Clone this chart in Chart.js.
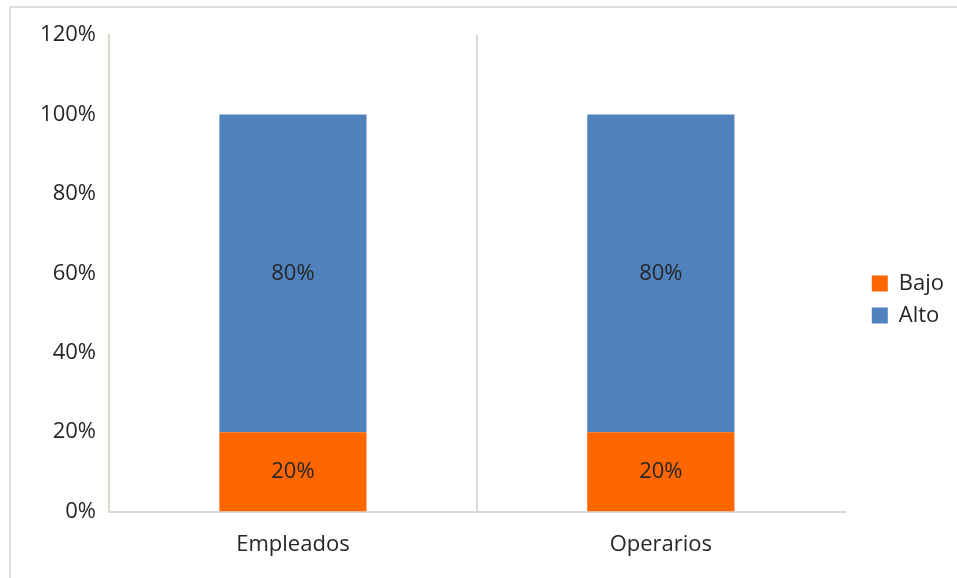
<!DOCTYPE html>
<html>
<head>
<meta charset="utf-8">
<script src="https://cdn.jsdelivr.net/npm/chart.js@4"></script>
<style>
  body { margin: 0; background: #fff; }
  #frame {
    position: absolute; left: 9px; top: 6px; width: 960px; height: 580px;
    border-top: 2px solid #dedede; border-left: 2px solid #dedede;
  }
  #wrap { position: absolute; left: 0; top: 0; width: 957px; height: 578px; }
</style>
</head>
<body>
<div id="frame"></div>
<div id="wrap"><canvas id="nivelChart"></canvas></div>
<script>
// Categories and series
const categorias = ["Empleados", "Operarios"];
const bajo = [20, 20];
const alto = [80, 80];
const yTicks = [0, 20, 40, 60, 80, 100, 120];

const FONT = "'Open Sans', sans-serif";
const SIZE = 22;

// Write the value inside every bar segment
const valueLabels = {
  id: "valueLabels",
  afterDatasetsDraw(chart) {
    const ctx = chart.ctx;
    ctx.save();
    ctx.font = SIZE + "px " + FONT;
    ctx.fillStyle = "#262626";
    ctx.textAlign = "center";
    ctx.textBaseline = "middle";
    chart.data.datasets.forEach((ds, i) => {
      chart.getDatasetMeta(i).data.forEach((bar, j) => {
        const yMid = (bar.y + bar.base) / 2;
        ctx.fillText(ds.data[j] + "%", bar.x, yMid);
      });
    });
    ctx.restore();
  }
};

// Push the legend a bit away from the plot area
const legendShift = {
  id: "legendShift",
  afterLayout(chart) {
    const lg = chart.legend;
    lg.left += 17; lg.right += 17;
    lg.top -= 7; lg.bottom -= 7;
  }
};

const chartCanvas = document.querySelector("#nivelChart");

new Chart(chartCanvas, {
  type: "bar",
  data: {
    labels: categorias,
    datasets: [
      { label: "Bajo", data: bajo, backgroundColor: "#FF6600" },
      { label: "Alto", data: alto, backgroundColor: "#4F81BD" }
    ]
  },
  options: {
    responsive: true,
    maintainAspectRatio: false,
    animation: false,
    layout: { padding: { top: 35, right: 20, bottom: 0, left: 0 } },
    datasets: { bar: { barPercentage: 0.4, categoryPercentage: 1 } },
    scales: {
      x: {
        stacked: true,
        grid: {
          offset: true,
          drawTicks: false,
          color: ctx => ctx.index === 1 ? "#d9d9d9" : "rgba(0,0,0,0)",
          lineWidth: 2
        },
        border: { color: "#d9d9d9", width: 2 },
        ticks: { color: "#262626", font: { family: FONT, size: SIZE }, padding: 20 }
      },
      y: {
        stacked: true,
        min: 0,
        max: 120,
        afterFit: scale => { scale.width = 109; },
        afterBuildTicks: scale => { scale.ticks = yTicks.map(v => ({ value: v })); },
        grid: { display: false, drawTicks: false },
        border: { color: "#dcd8c8", width: 2 },
        ticks: {
          color: "#262626",
          font: { family: FONT, size: SIZE },
          padding: 13,
          callback: v => v + "%"
        }
      }
    },
    plugins: {
      legend: {
        position: "right",
        align: "center",
        labels: {
          color: "#262626",
          font: { family: FONT, size: SIZE },
          boxWidth: 16,
          boxHeight: 16,
          padding: 10
        }
      },
      tooltip: { enabled: false }
    }
  },
  plugins: [valueLabels, legendShift]
});
</script>
</body>
</html>
